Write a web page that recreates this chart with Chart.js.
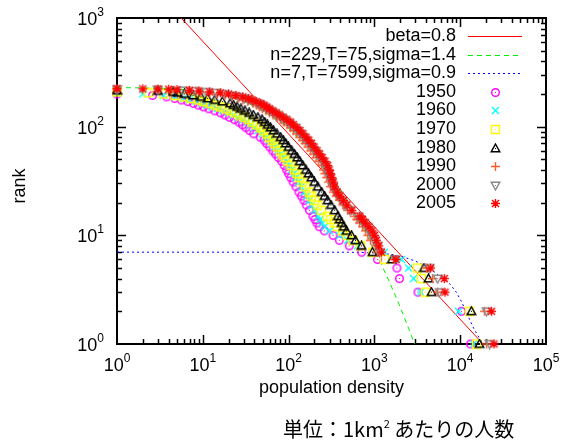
<!DOCTYPE html>
<html>
<head>
<meta charset="utf-8">
<script src="https://cdn.jsdelivr.net/npm/chart.js@4.4.0/dist/chart.umd.min.js"></script>
<style>
  body { margin: 0; background: #fff; }
  #wrap { position: relative; width: 561px; height: 441px; }
  #note { position: absolute; left: 283px; top: 417px; font-family: "Noto Sans CJK JP", sans-serif; font-size: 20px; line-height: 24px; color: #000; white-space: nowrap; }
  #note sup { font-size: 11px; vertical-align: 9px; line-height: 0; }
</style>
</head>
<body>
<div id="wrap">
  <canvas id="chart" width="561" height="441"></canvas>
  <div id="note">単位：1km<sup>2</sup> あたりの人数</div>
</div>
<script>
// ===== DATA =====
const ranks = [1,2,3,4,5,6,7,8,9,10,11,12,13,14,15,17,19,21,23,25,28,31,34,37,40,44,48,52,56,60,65,70,75,80,86,92,98,104,110,116,122,128,134,140,146,152,158,164,170,176,182,188,194,200,205,209,213,216,219,221,222,223,224];

// population density per rank (each year stops at its own number of towns)
const dens1950 = [13180,10350,3220,1960,1830,1090,710,510,390,330,261,228,214,203,192,175,161,151,141,132,122,113,106,100,95,89,83,76,70.6,65.4,60.2,55.7,51.9,46.8,39.2,35.2,31.8,29,26.4,23.4,20.5,18.2,16.1,13.8,11.8,10.2,8.9,7.8,6.7,5.6,4.7,3.8,2.6,1];
const dens1960 = [14300,9550,3450,2860,2500,2070,1310,635,486,392,300,262,246,233,221,201,185,173,162,152,140,130,122,115,109,102,95.3,87.7,81.1,75.2,69.2,64,59.6,55,49,44,39.8,36.2,33,29.2,25.6,22.7,20.1,17.2,14.8,12.8,11.1,9.7,8.4,7,5.9,4.7,3.5,2,1];
const dens1970 = [15500,12850,3950,3540,3180,1310,950,690,560,486,425,371,342,310,284,242,219,201,185,173,157,144,134,125,117,107,98.4,91.3,85.3,79.8,74,69,64.2,59.8,55.3,51.3,47.5,42.5,38.2,34.5,30.9,27,24,21.3,18.5,16,14,12.1,10.2,8.8,7.3,6,4.7,3.5,2.3,1];
const dens1980 = [16760,13500,4625,4270,3785,1603,950,708,602,541,473,440,416,394,375,344,311,285,262,243,219,200,184,171,159,146,135,126,117,109,100,92.7,86.7,80.7,73.2,66.8,61.7,56.9,52.8,49.1,43.9,38.8,34.7,31,27.8,25.1,22.8,20.8,16.9,13.8,11.4,9.5,7.7,6.1,5.1,4.5,3,1];
const dens1990 = [20300,19200,5450,4760,4060,1710,1090,1030,900,840,791,729,671,623,583,486,429,392,358,332,306,292,277,265,254,241,224,209,195,181,168,156,145,135,123,114,105,95.9,88.7,80.9,73.1,65.9,59.7,54.2,49.4,45.6,42.1,38.5,33.4,29.2,25.8,22.1,18.2,14.8,12,9.4,6.8,4.3,1];
const dens2000 = [22000,20300,5740,5450,4400,1760,1150,1090,990,930,875,807,738,682,637,521,457,418,381,353,328,315,301,290,279,267,249,231,215,201,186,173,161,149,137,127,116,106,98.4,89.3,80.9,73.3,66.7,60.7,55.5,51.4,47.6,43.6,38.3,34,30.4,26.2,21.7,17.7,14.3,10.9,8.1,5.8,3,1];
const dens2005 = [24800,23200,6650,6530,4510,1785,1210,1125,1058,1002,938,863,787,726,676,546,478,436,397,368,343,331,318,307,297,285,266,247,230,215,199,185,172,160,147,136,125,114,105.5,95.5,86.7,78.7,71.7,65.3,59.9,55.6,51.6,47.3,41.9,37.6,33.9,29.3,24.3,19.9,16,12,9,7,5,4,3,2,1];

// fitted curves
const betaX = [5.6, 18450];
const betaY = [1000, 1];
const fitAX = [1,3,5,10,20,30,40,75,100,150,200,300,400,500,700,1000,1200,1500,1750,2000,2500,3000,3500];
const fitAY = [228.8,226.5,222.9,211.8,189.5,170.3,154.2,114.5,95.9,71.1,55.4,36.9,26.5,20.1,12.7,7.37,5.46,3.71,2.8,2.18,1.4,0.96,0.69];
const fitBX = [1,100,500,1000,1500,2200,3000,4000,5000,6000,7500,9000,10500,12000,14000,16000,18500,21000];
const fitBY = [7,7,6.99,6.9,6.7,6.3,5.8,5.2,4.6,4.1,3.6,3.0,2.4,1.9,1.45,1.2,1.0,0.85];

const years = ['1950','1960','1970','1980','1990','2000','2005'];
const lineLabels = ['beta=0.8', 'n=229,T=75,sigma=1.4', 'n=7,T=7599,sigma=0.9'];
const xExps = [0,1,2,3,4,5];
const yExps = [0,1,2,3];

// ===== SYMBOLS (gnuplot style) =====
function sym(color, draw, dot) {
    const c = document.createElement('canvas');
    c.width = 11; c.height = 11;
    const g = c.getContext('2d');
    g.strokeStyle = color; g.fillStyle = color; g.lineWidth = 1.4;
    g.beginPath(); draw(g); g.stroke();
    if (dot) g.fillRect(5, 5, 1, 1);
    return c;
}
const plus = g => { g.moveTo(5.5, 1); g.lineTo(5.5, 10); g.moveTo(1, 5.5); g.lineTo(10, 5.5); };
const cross = g => { g.moveTo(2, 2); g.lineTo(9, 9); g.moveTo(9, 2); g.lineTo(2, 9); };
const symbols = [
    sym('#ff00ff', g => g.arc(5.5, 5.5, 3.8, 0, Math.PI * 2), true),
    sym('#00ffff', cross, false),
    sym('#ffff00', g => g.rect(1.5, 1.5, 8, 8), true),
    sym('#000000', g => { g.moveTo(5.5, 1); g.lineTo(9.8, 8.8); g.lineTo(1.2, 8.8); g.closePath(); }, true),
    sym('#ff5a28', plus, false),
    sym('#888888', g => { g.moveTo(5.5, 10); g.lineTo(9.8, 2.2); g.lineTo(1.2, 2.2); g.closePath(); }, true),
    sym('#ff0000', g => { plus(g); cross(g); }, false)
];
const lineStyles = [
    { color: '#ff0000', dash: [] },
    { color: '#00ee00', dash: [5, 4] },
    { color: '#0000ff', dash: [2, 3] }
];

// ===== DATASETS =====
const pair = (xs, ys) => xs.map((x, i) => ({ x: x, y: ys[i] }));
const series = [dens1950, dens1960, dens1970, dens1980, dens1990, dens2000, dens2005];

const datasets = [
    { label: lineLabels[0], data: pair(betaX, betaY) },
    { label: lineLabels[1], data: pair(fitAX, fitAY) },
    { label: lineLabels[2], data: pair(fitBX, fitBY) }
].map((d, i) => Object.assign(d, {
    showLine: true, borderColor: lineStyles[i].color, borderDash: lineStyles[i].dash,
    borderWidth: 1, pointRadius: 0, tension: 0, clip: 0, order: 10 - i
}));

series.forEach((s, i) => {
    datasets.push({
        label: years[i],
        data: s.map((v, k) => ({ x: v, y: ranks[k] })),
        pointStyle: symbols[i],
        pointRadius: 5,
        clip: false,
        order: 7 - i
    });
});

// ===== FRAME, TICKS, LABELS, KEY =====
const FONT = '"Liberation Sans", Arial, sans-serif';

const frame = {
    id: 'frame',
    beforeDatasetsDraw(chart) {
        const g = chart.ctx, a = chart.chartArea;
        const xs = chart.scales.x, ys = chart.scales.y;
        g.save();
        g.strokeStyle = '#000';
        g.lineWidth = 1.5;
        g.beginPath();
        for (let e = 0; e < 5; e++) for (let m = 1; m <= 9; m++) {
            const v = m * Math.pow(10, e);
            if (v === 1) continue;
            const px = Math.round(xs.getPixelForValue(v)) + 0.5, len = m === 1 ? 9 : 5;
            g.moveTo(px, a.bottom); g.lineTo(px, a.bottom - len);
            g.moveTo(px, a.top); g.lineTo(px, a.top + len);
        }
        for (let e = 0; e < 3; e++) for (let m = 1; m <= 9; m++) {
            const v = m * Math.pow(10, e);
            if (v === 1) continue;
            const py = Math.round(ys.getPixelForValue(v)) + 0.5, len = m === 1 ? 9 : 5;
            g.moveTo(a.left, py); g.lineTo(a.left + len, py);
            g.moveTo(a.right, py); g.lineTo(a.right - len, py);
        }
        g.stroke();
        g.lineWidth = 2;
        g.strokeRect(a.left, a.top, a.right - a.left, a.bottom - a.top);
        g.restore();
    },
    afterDraw(chart) {
        const g = chart.ctx, a = chart.chartArea;
        const xs = chart.scales.x, ys = chart.scales.y;
        g.save();
        g.fillStyle = '#000';
        g.textBaseline = 'alphabetic';
        g.textAlign = 'left';

        const power = (e, x, yBase, align) => {
            g.font = '18px ' + FONT;
            const w1 = g.measureText('10').width;
            g.font = '12px ' + FONT;
            const w2 = g.measureText(String(e)).width;
            const x0 = align === 'center' ? x - (w1 + w2) / 2 : x - (w1 + w2);
            g.font = '18px ' + FONT;
            g.fillText('10', x0, yBase);
            g.font = '12px ' + FONT;
            g.fillText(String(e), x0 + w1, yBase - 9);
        };
        xExps.forEach(e => power(e, xs.getPixelForValue(Math.pow(10, e)), 371, 'center'));
        yExps.forEach(e => power(e, 104, ys.getPixelForValue(Math.pow(10, e)) + 7, 'right'));

        g.font = '18px ' + FONT;
        g.textAlign = 'center';
        g.textBaseline = 'middle';
        g.fillText('population density', (a.left + a.right) / 2, 388);
        g.save();
        g.translate(20, 186);
        g.rotate(-Math.PI / 2);
        g.fillText('rank', 0, 0);
        g.restore();

        // key, gnuplot style: text right aligned, sample to its right
        g.textAlign = 'right';
        const keyText = lineLabels.concat(years);
        keyText.forEach((t, i) => {
            const y = 36 + i * 18.6;
            g.fillText(t, 456, y);
            if (i < 3) {
                g.save();
                g.strokeStyle = lineStyles[i].color;
                g.setLineDash(lineStyles[i].dash);
                g.lineWidth = 1.2;
                g.beginPath();
                g.moveTo(468, Math.round(y) + 0.5);
                g.lineTo(522, Math.round(y) + 0.5);
                g.stroke();
                g.restore();
            } else {
                g.drawImage(symbols[i - 3], 490, Math.round(y) - 5);
            }
        });
        g.restore();
    }
};

new Chart(document.getElementById('chart'), {
    type: 'scatter',
    data: { datasets: datasets },
    options: {
        responsive: false,
        animation: false,
        layout: { padding: { left: 117, right: 15, top: 18, bottom: 97 } },
        plugins: { legend: { display: false }, tooltip: { enabled: false } },
        scales: {
            x: { type: 'logarithmic', min: 1, max: 100000, display: false },
            y: { type: 'logarithmic', min: 1, max: 1000, display: false }
        }
    },
    plugins: [frame]
});
</script>
</body>
</html>
